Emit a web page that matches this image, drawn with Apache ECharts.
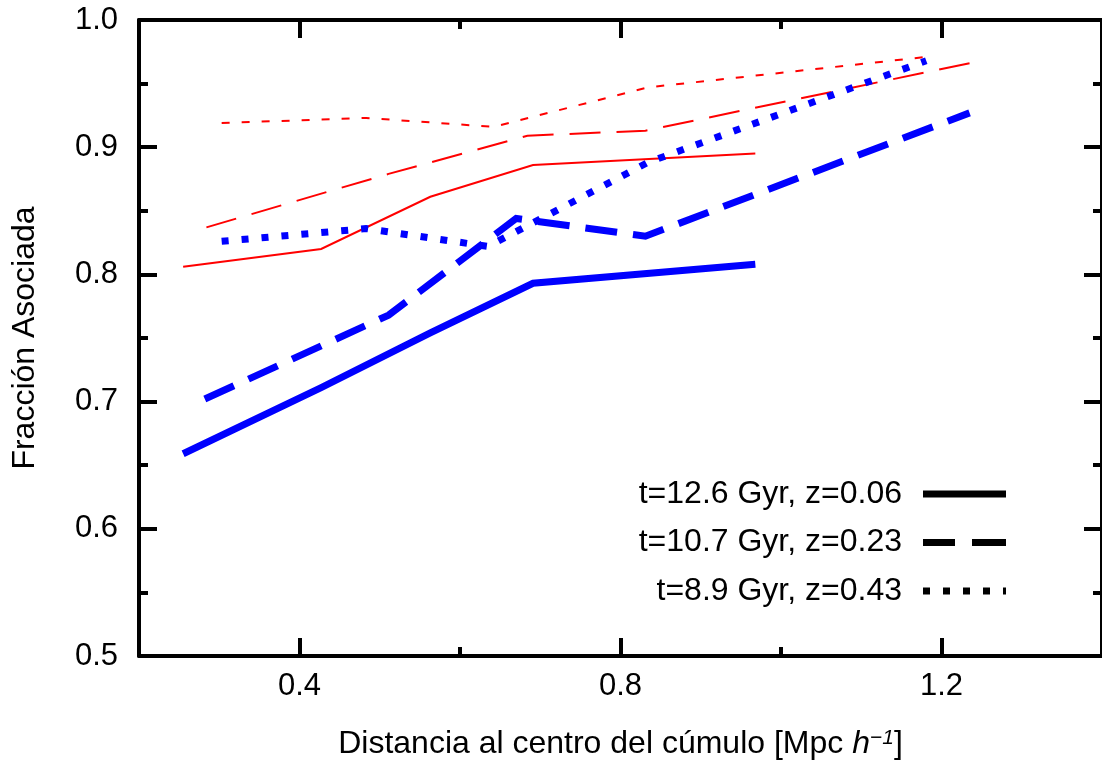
<!DOCTYPE html>
<html>
<head>
<meta charset="utf-8">
<script src="https://cdn.jsdelivr.net/npm/echarts@6/dist/echarts.min.js"></script>
<style>
  html, body { margin: 0; padding: 0; background: #fff; }
  #chart { width: 1102px; height: 765px; }
</style>
</head>
<body>
<div id="chart"></div>
<script>
// Distance to cluster centre [Mpc/h] and associated fraction per epoch.
const xT126 = [0.255, 0.427, 0.563, 0.691, 0.968];
const yT126 = [0.659, 0.711, 0.754, 0.793, 0.808];
const yT126b = [0.806, 0.820, 0.861, 0.886, 0.895];

const xT107 = [0.282, 0.511, 0.670, 0.831, 1.235];
const yT107 = [0.702, 0.768, 0.844, 0.830, 0.927];
const xT107b = [0.284, 0.511, 0.684, 0.831, 1.235];
const yT107b = [0.837, 0.879, 0.909, 0.913, 0.966];

const xT89 = [0.303, 0.483, 0.635, 0.834, 1.181];
const yT89 = [0.826, 0.836, 0.822, 0.888, 0.968];
const xT89b = [0.303, 0.483, 0.642, 0.834, 1.181];
const yT89b = [0.919, 0.923, 0.916, 0.947, 0.971];

const namesMain = ['t=12.6 Gyr, z=0.06', 't=10.7 Gyr, z=0.23', 't=8.9 Gyr, z=0.43'];
const namesAlt = ['t=12.6 Gyr, z=0.06 (b)', 't=10.7 Gyr, z=0.23 (b)', 't=8.9 Gyr, z=0.43 (b)'];
const xMajor = [0.4, 0.8, 1.2];
const xMinor = [0.6, 1.0];

const FONT = "'Liberation Sans', Arial, Helvetica, sans-serif";
const FS = 31;   // tick labels
const FT = 32;   // axis names and key

// Key samples: solid bar, long dashes, square dots (83 x 7 boxes)
const keyIcons = [
  'path://M0,0h83v7h-83z',
  'path://M0,0h32v7h-32z M49,0h34v7h-34z',
  'path://M0,0h7v7h-7z M20,0h7v7h-7z M40,0h7v7h-7z M60,0h7v7h-7z M80,0h3v7h-3z'
];

function pairs(xs, ys) { return xs.map((x, i) => [x, ys[i]]); }

function xAxisDef(position, ticks, len, withLine, withLabel) {
  return {
    type: 'value', position: position, min: 0.2, max: 1.4, interval: 0.2,
    axisLine: { show: withLine, onZero: false, lineStyle: { color: '#000', width: 4 } },
    axisTick: { show: true, inside: true, length: len, customValues: ticks,
      lineStyle: { color: '#000', width: 4 } },
    axisLabel: withLabel ? { show: true, customValues: ticks, margin: 15,
      color: '#000', fontSize: FS, fontFamily: FONT,
      formatter: v => v.toFixed(1) } : { show: false },
    splitLine: { show: false }
  };
}

function yAxisDef(position, withLabel) {
  return {
    type: 'value', position: position, min: 0.5, max: 1.0, interval: 0.1,
    axisLine: { show: true, onZero: false, lineStyle: { color: '#000', width: 4 } },
    axisTick: { show: true, inside: true, length: 18, lineStyle: { color: '#000', width: 4 } },
    minorTick: { show: true, splitNumber: 2, length: 9, lineStyle: { color: '#000', width: 4 } },
    axisLabel: withLabel ? { show: true, margin: 21, color: '#000', fontSize: FS,
      fontFamily: FONT, formatter: v => v.toFixed(1) } : { show: false },
    splitLine: { show: false }
  };
}

function lineSeries(name, data, color, width, dash) {
  return {
    name: name, type: 'line', data: data, xAxisIndex: 0, yAxisIndex: 0,
    showSymbol: false, symbol: 'none', animation: false, z: width > 3 ? 3 : 2,
    lineStyle: { color: color, width: width, type: dash, cap: 'butt', join: 'miter' }
  };
}

const BLUE = '#0000ff', RED = '#ff0000';

const chart = echarts.init(document.getElementById('chart'), null, { renderer: 'canvas' });
const xName = xAxisDef('bottom', xMajor, 18, true, true);
xName.name = 'Distancia al centro del cúmulo [Mpc {it|h}{sup|−1}]';
xName.nameLocation = 'middle';
xName.nameGap = 72;
xName.nameTextStyle = {
  color: '#000', fontSize: FT, fontFamily: FONT,
  rich: {
    it: { fontStyle: 'italic', fontSize: FT, fontFamily: FONT, color: '#000' },
    sup: { fontStyle: 'italic', fontSize: 21, fontFamily: FONT, color: '#000', verticalAlign: 'top' }
  }
};

const yMain = yAxisDef('left', true);
yMain.name = 'Fracción Asociada';
yMain.nameLocation = 'middle';
yMain.nameGap = 98;
yMain.nameTextStyle = { color: '#000', fontSize: FT, fontFamily: FONT };

chart.setOption({
  backgroundColor: '#fff',
  animation: false,
  grid: { left: 139, top: 20, width: 967, height: 640, containLabel: false },
  xAxis: [
    xName,
    xAxisDef('bottom', xMinor, 9, false, false),
    xAxisDef('top', xMajor, 18, true, false),
    xAxisDef('top', xMinor, 9, false, false)
  ],
  yAxis: [yMain, yAxisDef('right', false)],
  legend: {
    orient: 'vertical', right: 96, top: 478, align: 'right', padding: 0,
    itemWidth: 83, itemHeight: 7, itemGap: 16.5,
    textStyle: { color: '#000', fontSize: FT, fontFamily: FONT, padding: [0, 16, 0, 0] },
    data: namesMain.map((n, i) => ({
      name: n, icon: keyIcons[i],
      itemStyle: { color: '#000', borderWidth: 0 }
    })),
    selectedMode: false
  },
  series: [
    lineSeries(namesAlt[0], pairs(xT126, yT126b), RED, 2, 'solid'),
    lineSeries(namesAlt[1], pairs(xT107b, yT107b), RED, 2, [31, 16]),
    lineSeries(namesAlt[2], pairs(xT89b, yT89b), RED, 2, [8, 12]),
    lineSeries(namesMain[0], pairs(xT126, yT126), BLUE, 7, 'solid'),
    lineSeries(namesMain[1], pairs(xT107, yT107), BLUE, 7, [32, 16]),
    lineSeries(namesMain[2], pairs(xT89, yT89), BLUE, 7, [7, 13])
  ]
});
</script>
</body>
</html>
